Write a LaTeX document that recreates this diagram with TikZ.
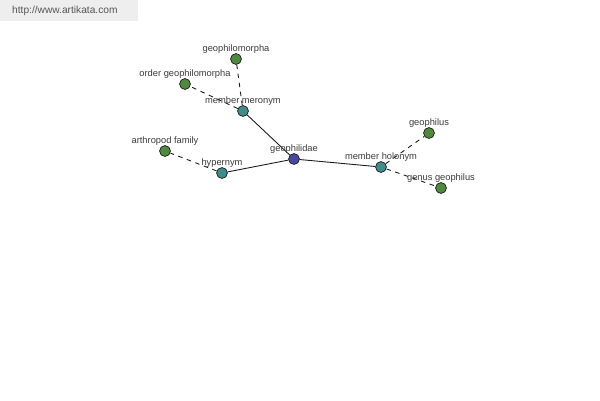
\documentclass[tikz,border=0pt]{standalone}
\usepackage{fontspec}
\setmainfont{Liberation Sans}
\usetikzlibrary{backgrounds}
\definecolor{ink}{HTML}{1A1A1A}
\definecolor{gray}{HTML}{555555}
\definecolor{light}{HTML}{EEEEEE}
\definecolor{leaf}{HTML}{4E8A3E}
\definecolor{relation}{HTML}{3F8C8C}
\definecolor{root}{HTML}{4848A0}
\tikzset{
  every node/.style={font=\fontsize{5.3}{6}\selectfont},
  dot/.style={circle, draw=ink, line width=0.4pt, minimum size=6.2pt, inner sep=0pt},
  leafdot/.style={dot, fill=leaf},
  reldot/.style={dot, fill=relation},
  rootdot/.style={dot, fill=root},
  lbl/.style={text=ink!85, inner sep=0pt, yshift=-0.4pt},
  link/.style={draw=ink, line width=0.5pt},
  dashlink/.style={link, dash pattern=on 2.6pt off 2.6pt},
}
\begin{document}
\begin{tikzpicture}[x=0.02cm, y=-0.02cm]
\useasboundingbox (0,0) rectangle (600,400);
% word in the middle
\node[rootdot, label={[lbl]above:geophilidae}] (g) at (294,159) {};
% relations
\node[reldot, label={[lbl]above:member meronym}] (mero) at (243,111) {};
\node[reldot, label={[lbl]above:hypernym}] (hyper) at (222,173) {};
\node[reldot, label={[lbl]above:member holonym}] (holo) at (381,167) {};
% related words
\node[leafdot, label={[lbl]above:geophilomorpha}] (gm) at (236,59) {};
\node[leafdot, label={[lbl]above:order geophilomorpha}] (ogm) at (185,84) {};
\node[leafdot, label={[lbl]above:arthropod family}] (af) at (165,151) {};
\node[leafdot, label={[lbl]above:geophilus}] (gp) at (429,133) {};
\node[leafdot, label={[lbl]above:genus geophilus}] (ggp) at (441,188) {};
\begin{scope}[on background layer]
\fill[white] (0,0) rectangle (600,400);
\fill[light] (0,0) rectangle (138,21);
\draw[link] (g)--(mero); \draw[link] (g)--(hyper); \draw[link] (g)--(holo);
\draw[dashlink] (mero)--(gm); \draw[dashlink] (mero)--(ogm);
\draw[dashlink] (hyper)--(af);
\draw[dashlink] (holo)--(gp); \draw[dashlink] (holo)--(ggp);
\end{scope}
\node[text=gray, anchor=west, font=\fontsize{5.8}{7}\selectfont] (site) at (6,11) {http://www.artikata.com};
\end{tikzpicture}
\end{document}
